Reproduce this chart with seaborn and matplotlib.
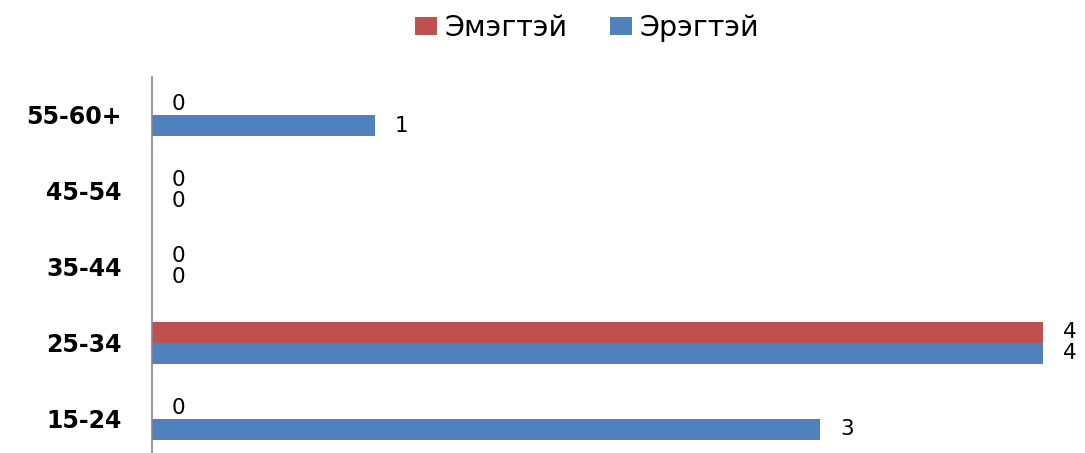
import matplotlib
matplotlib.use("Agg")
import matplotlib.pyplot as plt
import seaborn as sns
import pandas as pd

categories = ["55-60+", "45-54", "35-44", "25-34", "15-24"]
female = [0, 0, 0, 4, 0]   # Эмэгтэй
male = [1, 0, 0, 4, 3]     # Эрэгтэй
series_names = ["Эмэгтэй", "Эрэгтэй"]
colors = ["#C0504D", "#4F81BD"]

rows = []
for c, f, m in zip(categories, female, male):
    rows.append({"age": c, "sex": series_names[0], "count": f})
    rows.append({"age": c, "sex": series_names[1], "count": m})
df = pd.DataFrame(rows)

sns.set_theme(style="white")
plt.rcParams["font.family"] = ["DejaVu Sans"]
plt.rcParams["text.color"] = "black"

fig = plt.figure(figsize=(10.85, 4.53), dpi=100)
ax = fig.add_axes([152 / 1085, 0.0, 1 - 152 / 1085, 1 - 77 / 453])

sns.barplot(data=df, y="age", x="count", hue="sex", order=categories,
            hue_order=series_names, palette=colors, orient="h",
            width=0.555, dodge=True, saturation=1, linewidth=0,
            ax=ax, legend=True)

for cont in ax.containers:
    ax.bar_label(cont, labels=[str(int(v)) for v in cont.datavalues],
                 padding=14.4, fontsize=15.5, color="black")

xmax = max(max(female), max(male))
ax.set_xlim(0, xmax * 933 / 891)
ax.set_ylim(4.45, -0.5)
ax.set_xlabel("")
ax.set_ylabel("")
ax.set_xticks([])
for s in ["top", "right", "bottom"]:
    ax.spines[s].set_visible(False)
ax.spines["left"].set_color("#868686")
ax.spines["left"].set_linewidth(1.2)
ax.tick_params(axis="y", length=0, pad=22, labelsize=17, labelcolor="black")
for t in ax.get_yticklabels():
    t.set_fontweight("bold")

leg = ax.legend(loc="center", bbox_to_anchor=(587 / 1085, 1 - 28 / 453),
                bbox_transform=fig.transFigure, ncol=2, frameon=False,
                fontsize=20.5, handlelength=0.78, handleheight=0.55,
                handletextpad=0.25, columnspacing=1.5)
for t in leg.get_texts():
    t.set_color("black")

fig.savefig("out.png", dpi=100, facecolor="white")
